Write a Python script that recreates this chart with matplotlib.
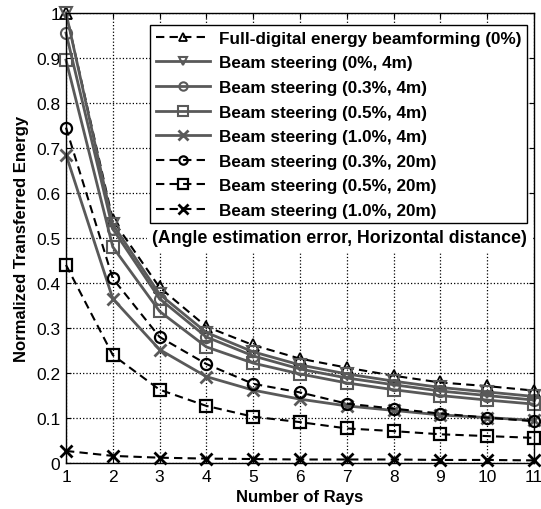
import numpy as np
import matplotlib
matplotlib.use('Agg')
import matplotlib.pyplot as plt

plt.rcParams['font.family'] = ['Liberation Sans', 'DejaVu Sans']

rays = np.arange(1, 12)

full_digital = [1.0, 0.54, 0.39, 0.303, 0.262, 0.232, 0.212, 0.194, 0.179, 0.171, 0.161]
bs_0_4 = [1.0, 0.53, 0.375, 0.29, 0.247, 0.218, 0.198, 0.182, 0.168, 0.158, 0.148]
bs_03_4 = [0.955, 0.52, 0.365, 0.28, 0.238, 0.209, 0.189, 0.174, 0.16, 0.15, 0.14]
bs_05_4 = [0.895, 0.48, 0.337, 0.258, 0.222, 0.198, 0.178, 0.163, 0.15, 0.14, 0.131]
bs_10_4 = [0.685, 0.365, 0.252, 0.192, 0.162, 0.142, 0.127, 0.117, 0.107, 0.101, 0.095]
bs_03_20 = [0.745, 0.41, 0.28, 0.22, 0.176, 0.157, 0.132, 0.121, 0.11, 0.101, 0.093]
bs_05_20 = [0.44, 0.24, 0.163, 0.127, 0.103, 0.091, 0.077, 0.071, 0.064, 0.06, 0.056]
bs_10_20 = [0.027, 0.016, 0.012, 0.01, 0.009, 0.008, 0.008, 0.008, 0.007, 0.007, 0.006]

labels = ['Full-digital energy beamforming (0%)',
          'Beam steering (0%, 4m)',
          'Beam steering (0.3%, 4m)',
          'Beam steering (0.5%, 4m)',
          'Beam steering (1.0%, 4m)',
          'Beam steering (0.3%, 20m)',
          'Beam steering (0.5%, 20m)',
          'Beam steering (1.0%, 20m)']

gray = '#595959'
dash = (4, 2.5)
fig = plt.figure(figsize=(5.41, 5.10), dpi=100)
ax = fig.add_axes([0.122, 0.090, 0.865, 0.883])

kw = dict(mfc='none', clip_on=False)
ax.plot(rays, full_digital, 'k--', dashes=dash, marker='^', ms=8, mew=1.3, lw=1.5, label=labels[0], **kw)
ax.plot(rays, bs_0_4, '-', color=gray, marker='v', ms=8, mew=1.5, lw=2.0, label=labels[1], **kw)
ax.plot(rays, bs_03_4, '-', color=gray, marker='o', ms=8, mew=1.5, lw=2.0, label=labels[2], **kw)
ax.plot(rays, bs_05_4, '-', color=gray, marker='s', ms=9, mew=1.5, lw=2.0, label=labels[3], **kw)
ax.plot(rays, bs_10_4, '-', color=gray, marker='x', ms=9, mew=2.0, lw=2.0, label=labels[4], **kw)
ax.plot(rays, bs_03_20, 'k--', dashes=dash, marker='o', ms=8, mew=1.6, lw=1.5, label=labels[5], **kw)
ax.plot(rays, bs_05_20, 'k--', dashes=dash, marker='s', ms=9, mew=1.6, lw=1.5, label=labels[6], **kw)
ax.plot(rays, bs_10_20, 'k--', dashes=dash, marker='x', ms=9, mew=2.0, lw=1.5, label=labels[7], **kw)

ax.set_xlim(1, 11)
ax.set_ylim(0, 1)
ax.set_xticks(rays)
ax.set_yticks(np.arange(0, 1.01, 0.1))
ax.set_yticklabels(['0', '0.1', '0.2', '0.3', '0.4', '0.5', '0.6', '0.7', '0.8', '0.9', '1'])
ax.tick_params(direction='in', labelsize=12.5, top=True, right=True, pad=4)
ax.grid(True, linestyle=':', color='k', lw=0.9)
for s in ax.spines.values():
    s.set_linewidth(1.0)

ax.set_xlabel('Number of Rays', fontsize=12, fontweight='bold', labelpad=4)
ax.set_ylabel('Normalized Transferred Energy', fontsize=12, fontweight='bold', labelpad=5)

leg = ax.legend(loc='upper right', bbox_to_anchor=(0.985, 0.972), fancybox=False,
                edgecolor='k', framealpha=1, prop={'weight': 'bold', 'size': 12.3},
                handlelength=3.2, handletextpad=0.5, labelspacing=0.56, borderpad=0.32,
                borderaxespad=0.0, markerscale=0.75)
leg.get_frame().set_linewidth(1.0)

ax.text(10.85, 0.5, '(Angle estimation error, Horizontal distance)', ha='right', va='center',
        fontsize=12.8, fontweight='bold', backgroundcolor='white')

fig.savefig('out.png', dpi=100)
